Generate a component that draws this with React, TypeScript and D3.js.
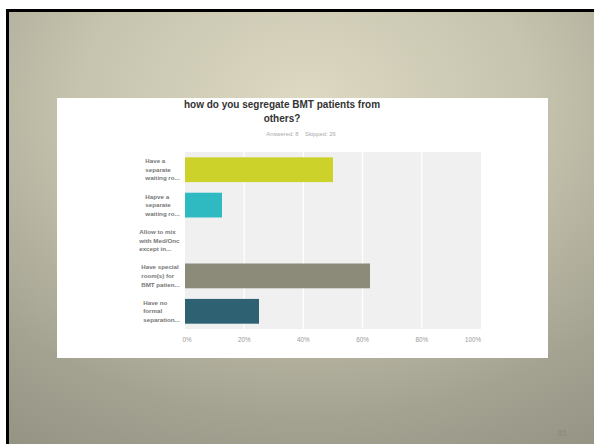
import React, { useLayoutEffect, useRef, useState } from "react";
import * as d3 from "d3";

const categories: string[][] = [
  ["Have a", "separate", "waiting ro..."],
  ["Hapve a", "separate", "waiting ro..."],
  ["Allow to mix", "with Med/Onc", "except in..."],
  ["Have special", "room(s) for", "BMT patien..."],
  ["Have no", "formal", "separation..."],
];
const values = [50, 12.5, 0, 62.5, 25];
const barColors = ["#cdd22b", "#2fbac1", "#a0a0a0", "#8c8a78", "#2e6272"];
const ticks = [0, 20, 40, 60, 80, 100];
const titleLines = ["how do you segregate BMT patients from", "others?"];
const subtitle = "Answered: 8    Skipped: 26";
const pageNumber = "31";

const W = 594;
const H = 444;
const plot = { left: 185, right: 481, top: 152, bottom: 329 };

function Label({ lines, cy, rightX }: { lines: string[]; cy: number; rightX: number }) {
  const ref = useRef<SVGGElement>(null);
  const [dx, setDx] = useState(0);
  useLayoutEffect(() => {
    if (ref.current) {
      const bb = ref.current.getBBox();
      setDx(rightX - (bb.x + bb.width));
    }
  }, [rightX]);
  const lh = 8.6;
  return (
    <g ref={ref} transform={`translate(${dx},0)`}>
      {lines.map((l, i) => (
        <text
          key={i}
          x={0}
          y={cy + (i - (lines.length - 1) / 2) * lh}
          dy="0.35em"
          fontSize={6.2}
          fontWeight={700}
          fill="#777"
          fontFamily="Liberation Sans, Arial, sans-serif"
        >
          {l}
        </text>
      ))}
    </g>
  );
}

export default function App() {
  const x = d3.scaleLinear().domain([0, 100]).range([plot.left, plot.right]);
  const y = d3
    .scaleBand<number>()
    .domain(d3.range(categories.length))
    .range([plot.top, plot.bottom])
    .paddingInner(0.3)
    .paddingOuter(0.15);
  return (
    <svg
      width={W}
      height={H}
      style={{ position: "absolute", left: 0, top: 0 }}
      fontFamily="Liberation Sans, Arial, sans-serif"
    >
      <defs>
        <radialGradient id="bg" cx="50%" cy="20%" r="95%" fx="50%" fy="20%">
          <stop offset="0%" stopColor="#ddd9c3" />
          <stop offset="40%" stopColor="#c6c3ae" />
          <stop offset="75%" stopColor="#a4a291" />
          <stop offset="100%" stopColor="#939182" />
        </radialGradient>
      </defs>
      <rect x={0} y={0} width={W} height={H} fill="#fff" />
      <rect x={6} y={9} width={W} height={H} fill="#000" />
      <rect x={9} y={12} width={W} height={H} fill="url(#bg)" />
      <rect x={57} y={98} width={491} height={260} fill="#fff" />
      {titleLines.map((t, i) => (
        <text
          key={i}
          x={282}
          y={104 + i * 14}
          textAnchor="middle"
          dy="0.35em"
          fontSize={10}
          fontWeight={700}
          fill="#333"
        >
          {t}
        </text>
      ))}
      <text x={301} y={134} textAnchor="middle" dy="0.35em" fontSize={5.8} fill="#aaa" xmlSpace="preserve">
        {subtitle}
      </text>
      <rect
        x={plot.left}
        y={plot.top}
        width={plot.right - plot.left}
        height={plot.bottom - plot.top}
        fill="#f0f0f0"
      />
      {ticks.slice(1, -1).map((t) => (
        <line key={t} x1={x(t)} x2={x(t)} y1={plot.top} y2={plot.bottom} stroke="#fff" strokeWidth={1.2} />
      ))}
      {values.map((v, i) => (
        <rect
          key={i}
          x={x(0)}
          y={y(i)}
          width={x(v) - x(0)}
          height={y.bandwidth()}
          fill={barColors[i]}
        />
      ))}
      {ticks.map((t, i) => (
        <text
          key={t}
          x={i === ticks.length - 1 ? x(t) : x(t) + (i === 0 ? 2 : 0)}
          y={340}
          dy="0.35em"
          textAnchor={i === ticks.length - 1 ? "end" : "middle"}
          fontSize={6.3}
          fill="#999"
        >
          {t}%
        </text>
      ))}
      {categories.map((lines, i) => (
        <Label key={i} lines={lines} cy={(y(i) as number) + y.bandwidth() / 2} rightX={180} />
      ))}
      <text x={562} y={433} textAnchor="middle" dy="0.35em" fontSize={9} fontWeight={700} fill="#8f8d80">
        {pageNumber}
      </text>
    </svg>
  );
}
